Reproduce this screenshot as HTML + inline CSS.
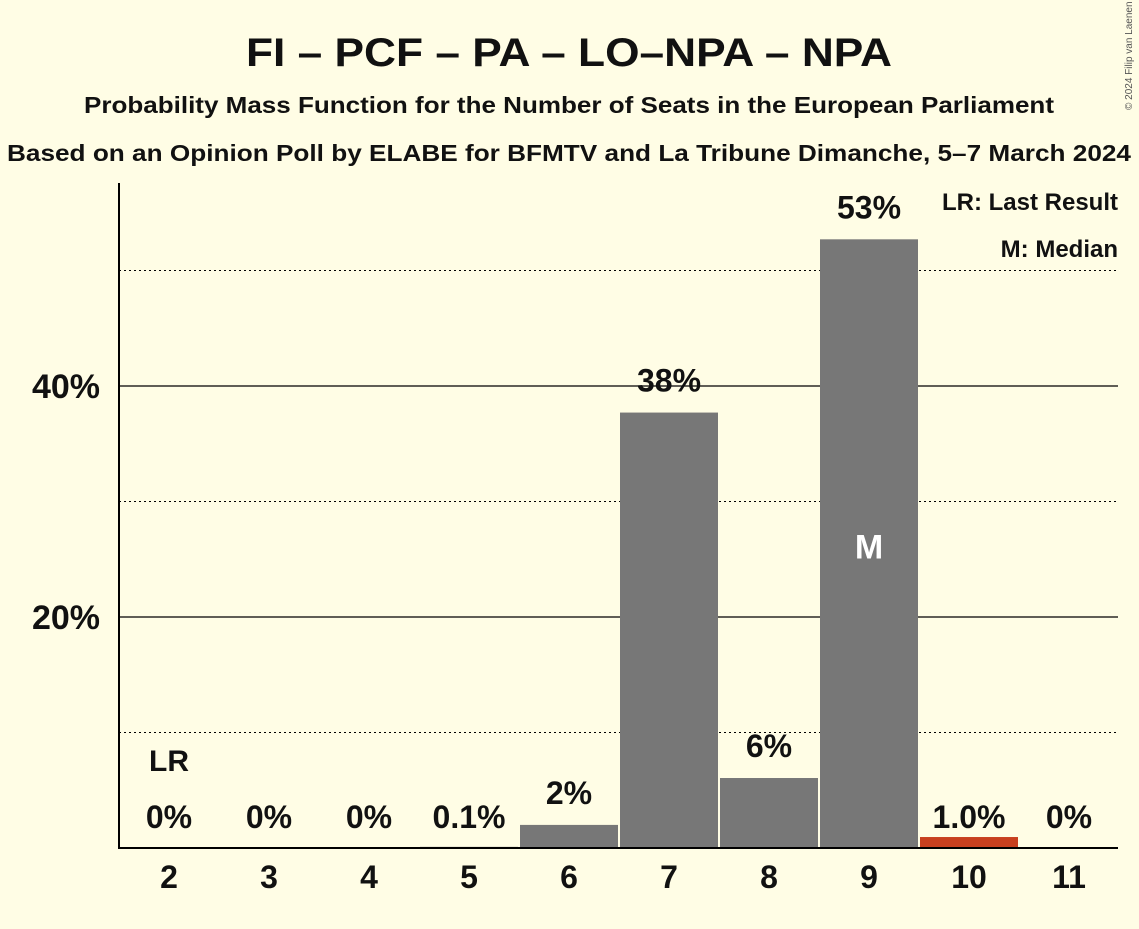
<!DOCTYPE html>
<html><head><meta charset="utf-8"><style>
body{margin:0;background:#fffde5;}
svg text{font-family:"Liberation Sans",sans-serif;fill:#111;}
</style></head><body>
<svg width="1139" height="924" id="c">
<rect width="1139" height="924" fill="#fffde5"/>
<text x="569" y="66" text-anchor="middle" font-size="40" font-weight="bold" textLength="646" lengthAdjust="spacingAndGlyphs">FI – PCF – PA – LO–NPA – NPA</text>
<text x="569" y="113" text-anchor="middle" font-size="23" font-weight="bold" textLength="970" lengthAdjust="spacingAndGlyphs">Probability Mass Function for the Number of Seats in the European Parliament</text>
<text x="569" y="161" text-anchor="middle" font-size="23" font-weight="bold" textLength="1124" lengthAdjust="spacingAndGlyphs">Based on an Opinion Poll by ELABE for BFMTV and La Tribune Dimanche, 5–7 March 2024</text>
<text x="1132" y="110" font-size="10" transform="rotate(-90 1132 110)" style="fill:#555">© 2024 Filip van Laenen</text>
<text x="1118" y="210" text-anchor="end" font-size="24" font-weight="bold">LR: Last Result</text>
<text x="1118" y="257" text-anchor="end" font-size="24" font-weight="bold">M: Median</text>
<g id="grid"></g><g id="bars"></g>
</svg>
<script>
const seats=[2,3,4,5,6,7,8,9,10,11];
const probs=[0,0,0,0.1,2,37.7,6.06,52.7,0.95,0];
const labels=["0%","0%","0%","0.1%","2%","38%","6%","53%","1.0%","0%"];
const yTicks=[20,40];
const yDotted=[10,30,50];
const lastResult=2, median=9, redSeat=10;
const ns="http://www.w3.org/2000/svg";
const y=v=>848-v*11.55;
const x=s=>169+(s-2)*100;
const g=document.getElementById('grid'),b=document.getElementById('bars');
function mk(t,a,p){const e=document.createElementNS(ns,t);for(const k in a)e.setAttribute(k,a[k]);p.appendChild(e);return e;}
yDotted.forEach(v=>{const l=mk('line',{x1:119,x2:1118,y1:y(v),y2:y(v),stroke:'#000','stroke-width':1,'stroke-dasharray':'2,3'},g);

});
yTicks.forEach(v=>{const l=mk('line',{x1:119,x2:1118,y1:y(v),y2:y(v),stroke:'#000','stroke-width':1.3},g);


const t=mk('text',{x:100,y:y(v)+12,'text-anchor':'end','font-size':34,'font-weight':'bold'},g);t.textContent=v+'%';

});
seats.forEach((s,i)=>{
 const p=probs[i];
 if(p>0){const r=mk('rect',{x:x(s)-49,y:y(p),width:98,height:848-y(p),fill:s===redSeat?'#c8401f':'#777'},b);
 
 }
 const ly=p>=2?y(p)-33:816;
 const t=mk('text',{x:x(s),y:ly+12,'text-anchor':'middle','font-size':32,'font-weight':'bold'},b);t.textContent=labels[i];
 
 
 const xt=mk('text',{x:x(s),y:876+12,'text-anchor':'middle','font-size':32,'font-weight':'bold'},b);xt.textContent=s;
 
 
 if(s===lastResult){const l=mk('text',{x:x(s),y:771,'text-anchor':'middle','font-size':30,'font-weight':'bold'},b);l.textContent='LR';
 
 }
 if(s===median){const m=mk('text',{x:x(s),y:y(p/2)+15,'text-anchor':'middle','font-size':34,'font-weight':'bold',style:'fill:#fff'},b);m.textContent='M';
 
 }
});
const ax=mk('line',{x1:119,x2:119,y1:183,y2:849,stroke:'#000','stroke-width':2},b);


const bx=mk('line',{x1:118,x2:1118,y1:848,y2:848,stroke:'#000','stroke-width':2},b);


</script>
</body></html>
